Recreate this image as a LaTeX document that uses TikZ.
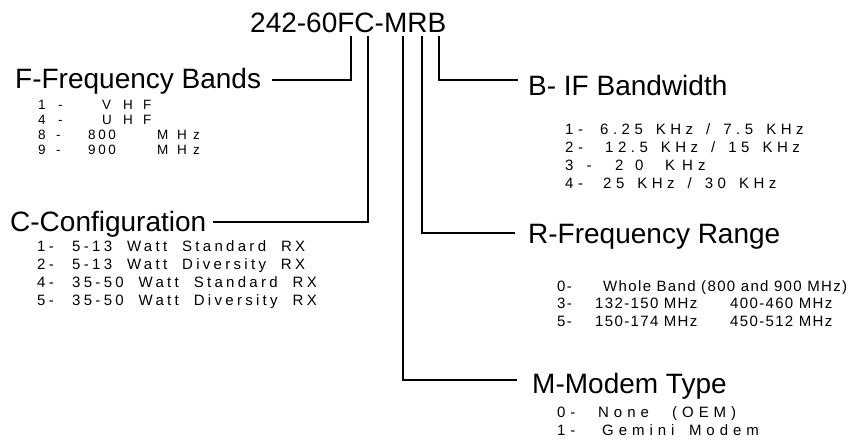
\documentclass[tikz,border=0pt]{standalone}
\usepackage{fontspec}
\setmainfont{Liberation Sans}
\newfontfamily\fF[LetterSpace=19,WordSpace=1.6]{Liberation Sans}
\newfontfamily\fC[LetterSpace=22,WordSpace=2]{Liberation Sans}
\newfontfamily\fB[LetterSpace=30,WordSpace=1.5]{Liberation Sans}
\newfontfamily\fR[LetterSpace=9]{Liberation Sans}
\newfontfamily\fM[LetterSpace=33,WordSpace=1.6]{Liberation Sans}
\newcommand\cb[2]{\makebox[#1pt][l]{#2}}
\tikzset{
  head/.style={anchor=base west, inner sep=0pt, font=\fontsize{28}{32}\selectfont},
  itemF/.style={anchor=base west, inner sep=0pt, font=\fF\fontsize{13.5}{15}\selectfont},
  itemC/.style={anchor=base west, inner sep=0pt, font=\fC\fontsize{15}{17}\selectfont},
  itemB/.style={anchor=base west, inner sep=0pt, font=\fB\fontsize{15}{17}\selectfont},
  itemR/.style={anchor=base west, inner sep=0pt, font=\fR\fontsize{15}{17}\selectfont},
  itemM/.style={anchor=base west, inner sep=0pt, font=\fM\fontsize{15}{17}\selectfont},
  conn/.style={line width=1.8pt, line join=miter}
}
\begin{document}
\begin{tikzpicture}[x=1pt,y=-1pt]
\fill[white] (0,0) rectangle (858,446);
\useasboundingbox (0,0) rectangle (858,446);

% title
\node[head] (title) at (250,33) {242-60FC-MRB};

% headings
\node[head] (hF) at (15,89) {F-Frequency Bands};
\node[head] (hC) at (10,232) {C-Configuration};
\node[head] (hB) at (528,96) {B- IF Bandwidth};
\node[head] (hR) at (528,243) {R-Frequency Range};
\node[head] (hM) at (532,393) {M-Modem Type};

% connector coordinates
\coordinate (tF) at (351,36);  \coordinate (eF) at (272,80);
\coordinate (tC) at (368,36);  \coordinate (eC) at (213,222);
\coordinate (tM) at (403,36);  \coordinate (eM) at (517,380);
\coordinate (tR) at (422,36);  \coordinate (eR) at (515,233);
\coordinate (tB) at (439,36);  \coordinate (eB) at (518,80);

\draw[conn] (tF) |- (eF);
\draw[conn] (tC) |- (eC);
\draw[conn] (tM) |- (eM);
\draw[conn] (tR) |- (eR);
\draw[conn] (tB) |- (eB);

% F items
\node[itemF] (f1) at (38,110)   {\cb{20}{1}\cb{44}{-}\cb{21}{V}\cb{20}{H}F};
\node[itemF] (f2) at (38,125)   {\cb{20}{4}\cb{44}{-}\cb{21}{U}\cb{20}{H}F};
\node[itemF] (f3) at (38,140)   {\cb{18}{8}\cb{32}{-}\cb{69}{800}\cb{20}{M}\cb{16}{H}z};
\node[itemF] (f4) at (38,154.5) {\cb{18}{9}\cb{32}{-}\cb{69}{900}\cb{20}{M}\cb{16}{H}z};

% C items
\node[itemC] (c1) at (37,251) {\cb{35}{1-}5-13 Watt Standard RX};
\node[itemC] (c2) at (37,269) {\cb{35}{2-}5-13 Watt Diversity RX};
\node[itemC] (c3) at (37,287) {\cb{35}{4-}35-50 Watt Standard RX};
\node[itemC] (c4) at (37,305) {\cb{35}{5-}35-50 Watt Diversity RX};

% B items
\node[itemB] (b1) at (565,135) {\cb{35}{1-}6.25 KHz / 7.5 KHz};
\node[itemB] (b2) at (565,153) {\cb{40}{2-}12.5 KHz / 15 KHz};
\node[itemB] (b3) at (565,171) {\cb{50}{3 -}\cb{20}{2}\cb{30}{0}\cb{17}{K}\cb{16}{H}z};
\node[itemB] (b4) at (565,189) {\cb{38}{4-}25 KHz / 30 KHz};

% R items
\node[itemR] (r1) at (557,291)   {\cb{46}{0-}Whole Band (800 and 900 MHz)};
\node[itemR] (r2) at (557,308.5) {\cb{38}{3-}\cb{135}{132-150 MHz}400-460 MHz};
\node[itemR] (r3) at (557,326)   {\cb{38}{5-}\cb{135}{150-174 MHz}450-512 MHz};

% M items
\node[itemM] (m1) at (557,417) {\cb{41}{0-}\cb{74}{None}(OEM)};
\node[itemM] (m2) at (557,435) {\cb{45}{1-}Gemini Modem};
\end{tikzpicture}
\end{document}
